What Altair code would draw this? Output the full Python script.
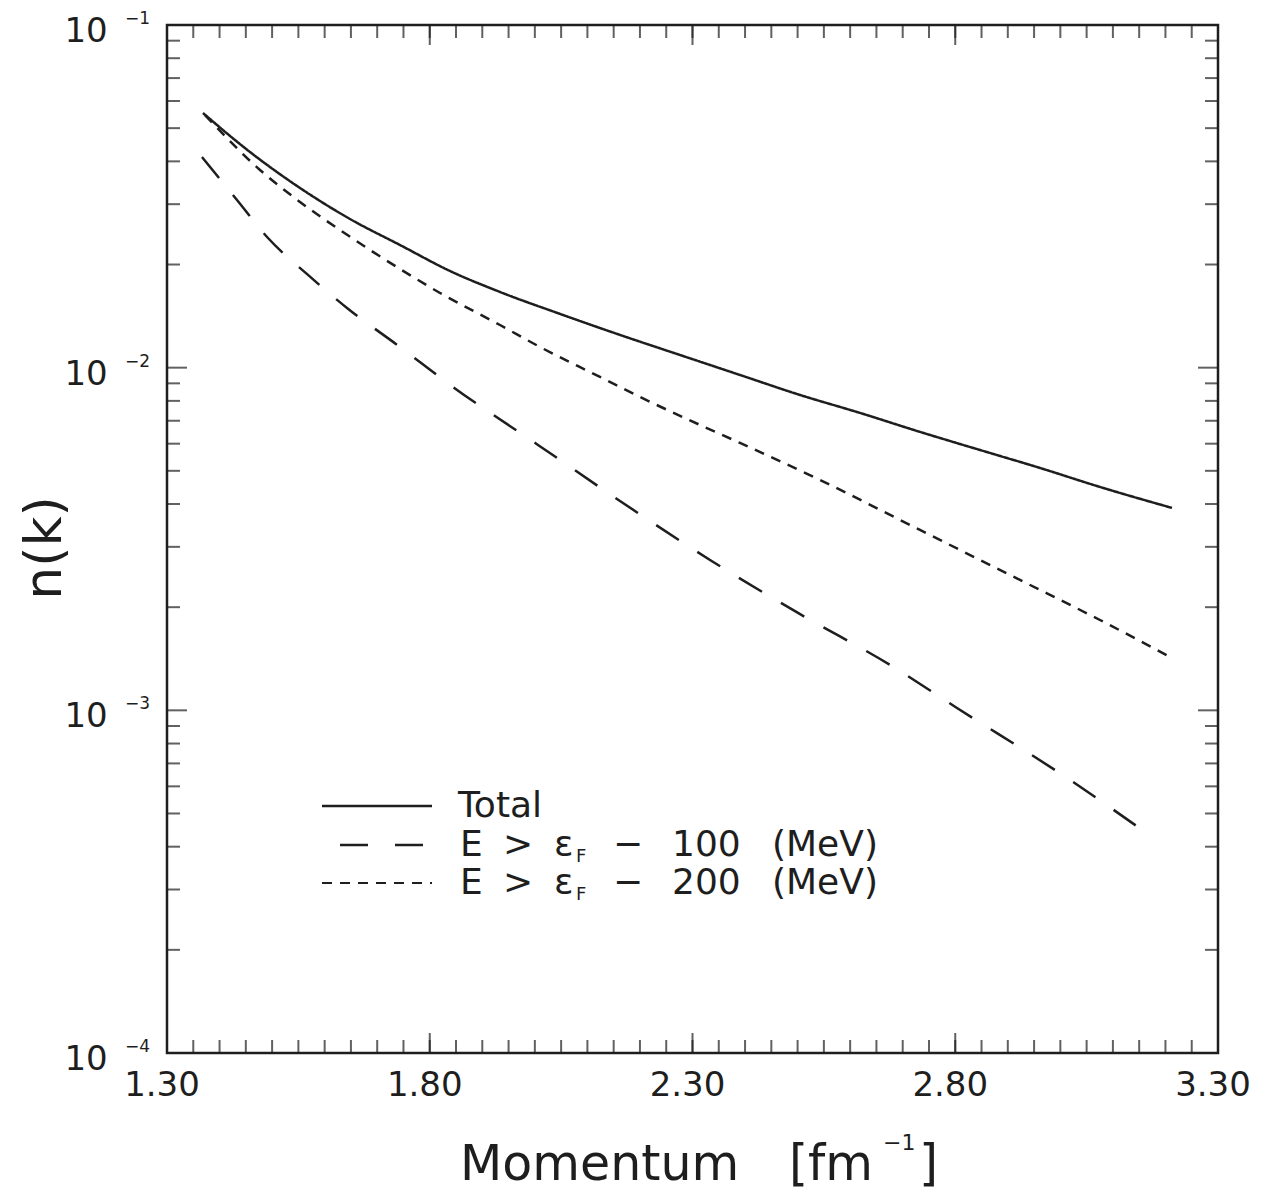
import altair as alt
import pandas as pd

# ---- data ----
k_total = [1.3685, 1.4579, 1.5531, 1.6482, 1.7434, 1.8385, 1.9337, 2.0479, 2.1621, 2.2762,
           2.3904, 2.5046, 2.6187, 2.7329, 2.8471, 2.9613, 3.0754, 3.2124]
n_total = [0.05534, 0.04260, 0.03345, 0.02716, 0.02280, 0.01915, 0.01663, 0.01435, 0.01246, 0.01089,
           0.009521, 0.008324, 0.007378, 0.006495, 0.005751, 0.005097, 0.004486, 0.003897]

k_e100 = [1.3666, 1.4332, 1.4922, 1.5683, 1.6425, 1.7434, 1.8442, 2.0060, 2.1677, 2.3333,
          2.5008, 2.6759, 2.8033, 3.0127, 3.1744]
n_e100 = [0.04119, 0.03085, 0.02390, 0.01865, 0.01494, 0.01149, 0.008785, 0.005950, 0.004029, 0.002747,
          0.001924, 0.001357, 0.001016, 0.0006349, 0.0004272]

k_e200 = [1.3723, 1.4770, 1.5531, 1.6292, 1.7434, 1.8195, 1.9337, 2.0098, 2.1240, 2.2001,
          2.3143, 2.3904, 2.5426, 2.7329, 2.9232, 3.0754, 3.2124]
n_e200 = [0.05461, 0.03775, 0.03045, 0.02522, 0.01941, 0.01652, 0.01332, 0.01149, 0.009395, 0.008213,
          0.006804, 0.006030, 0.004702, 0.003360, 0.002401, 0.001835, 0.001422]

series_names = ["Total", "E100", "E200"]

x_label_values = [1.30, 1.80, 2.30, 2.80, 3.30]
x_label_text = ["1.30", "1.80", "2.30", "2.80", "3.30"]
x_minor_ticks = [round(1.30 + 0.05 * i, 2) for i in range(41)]
y_decades = [1e-1, 1e-2, 1e-3, 1e-4]
y_exponents = ["\u22121", "\u22122", "\u22123", "\u22124"]
y_minor_ticks = [m * 10.0 ** e for e in (-4, -3, -2) for m in range(2, 10)]

# ---- layout ----
W, H = 1051, 1028
INK = "#1e1e1e"
FONT = "DejaVu Sans"

rows = []
for name, ks, ns in [("Total", k_total, n_total), ("E100", k_e100, n_e100), ("E200", k_e200, n_e200)]:
    for k, n in zip(ks, ns):
        rows.append({"series": name, "k": k, "n": n})
df = pd.DataFrame(rows)

xscale = alt.Scale(domain=[1.3, 3.3], nice=False, zero=False)
yscale = alt.Scale(type="log", domain=[1e-4, 1e-1], nice=False)

X = alt.X("k:Q", scale=xscale, axis=None)
Y = alt.Y("n:Q", scale=yscale, axis=None)

lines = alt.Chart(df).mark_line(color=INK, strokeWidth=2.5, interpolate="monotone").encode(
    x=X, y=Y,
    detail="series:N",
    strokeDash=alt.StrokeDash("series:N",
                              scale=alt.Scale(domain=series_names, range=[[1, 0], [27, 22], [10, 8]]),
                              legend=None),
)

one = pd.DataFrame({"a": [0]})

# x ticks (inward, bottom and top)
xt = pd.DataFrame({"k": x_minor_ticks})
xm = pd.DataFrame({"k": x_label_values, "lab": x_label_text})
xk = alt.X("k:Q", axis=None)
xticks = alt.layer(
    alt.Chart(xt).mark_tick(color=INK, thickness=2, size=13, orient="vertical").encode(x=xk, y=alt.value(H - 6.5)),
    alt.Chart(xt).mark_tick(color=INK, thickness=2, size=13, orient="vertical").encode(x=xk, y=alt.value(6.5)),
    alt.Chart(xm).mark_tick(color=INK, thickness=2, size=20, orient="vertical").encode(x=xk, y=alt.value(H - 10)),
    alt.Chart(xm).mark_tick(color=INK, thickness=2, size=20, orient="vertical").encode(x=xk, y=alt.value(10)),
)
xlabels = alt.Chart(xm).mark_text(fontSize=34, font=FONT, color=INK, align="center", baseline="middle", dx=-5).encode(
    x=xk, y=alt.value(H + 33), text="lab:N")

yt = pd.DataFrame({"n": y_minor_ticks})
ym = pd.DataFrame({"n": y_decades, "e": y_exponents})
yk = alt.Y("n:Q", axis=None)
yticks = alt.layer(
    alt.Chart(yt).mark_tick(color=INK, thickness=2, size=13, orient="horizontal").encode(y=yk, x=alt.value(6.5)),
    alt.Chart(yt).mark_tick(color=INK, thickness=2, size=13, orient="horizontal").encode(y=yk, x=alt.value(W - 6.5)),
    alt.Chart(ym).mark_tick(color=INK, thickness=2, size=20, orient="horizontal").encode(y=yk, x=alt.value(10)),
    alt.Chart(ym).mark_tick(color=INK, thickness=2, size=20, orient="horizontal").encode(y=yk, x=alt.value(W - 10)),
)

ylab10 = alt.Chart(ym).mark_text(fontSize=34, font=FONT, color=INK, align="center", baseline="middle", dy=7).encode(
    y=yk, x=alt.value(-81), text=alt.value("10"))
ylabexp = alt.Chart(ym).mark_text(fontSize=17, font=FONT, color=INK, align="left", baseline="middle", dy=-6).encode(
    y=yk, x=alt.value(-42), text="e:N")

def txt(s, x, y, size, align="left", angle=None):
    kw = dict(fontSize=size, font=FONT, color=INK, align=align, baseline="middle")
    if angle is not None:
        kw["angle"] = angle
    return alt.Chart(one).mark_text(**kw).encode(x=alt.value(x), y=alt.value(y), text=alt.value(s))

xtitle = alt.layer(
    txt("Momentum", 293, 1140, 49),
    txt("[fm", 622, 1140, 49),
    txt("\u22121", 716, 1118, 22),
    txt("]", 752, 1140, 49),
)
ytitle = txt("n(k)", -122, 523, 52, align="center", angle=270)

# legend
LX0, LX1 = 155, 265
ry = [781, 820, 858]
leg = alt.layer(
    alt.Chart(one).mark_rule(color=INK, strokeWidth=2.5).encode(x=alt.value(LX0), x2=alt.value(LX1), y=alt.value(ry[0])),
    alt.Chart(one).mark_rule(color=INK, strokeWidth=2.5, strokeDash=[28, 27]).encode(x=alt.value(LX0 + 18), x2=alt.value(LX1), y=alt.value(ry[1])),
    alt.Chart(one).mark_rule(color=INK, strokeWidth=2.2, strokeDash=[10, 8]).encode(x=alt.value(LX0), x2=alt.value(LX1), y=alt.value(ry[2])),
    txt("Total", 291, ry[0], 36),
)
pieces = [("E", 293), (">", 336), ("\u03b5", 387), ("\u2212", 446), ("VAL", 505), ("(MeV)", 605)]
for lab, yy in [("100", ry[1]), ("200", ry[2])]:
    for s, px in pieces:
        leg += txt(lab if s == "VAL" else s, px, yy, 36)
    leg += txt("F", 409, yy + 12, 18)

chart = alt.layer(lines, xticks, xlabels, yticks, ylab10, ylabexp, xtitle, ytitle, leg).properties(
    width=W, height=H,
    autosize=alt.AutoSizeParams(type="none"),
    padding={"left": 167, "top": 25, "right": 48, "bottom": 143},
    background="white",
).configure_view(stroke=INK, strokeWidth=2.5)

chart.save("out.html", embed_options={"renderer": "svg", "actions": False})
